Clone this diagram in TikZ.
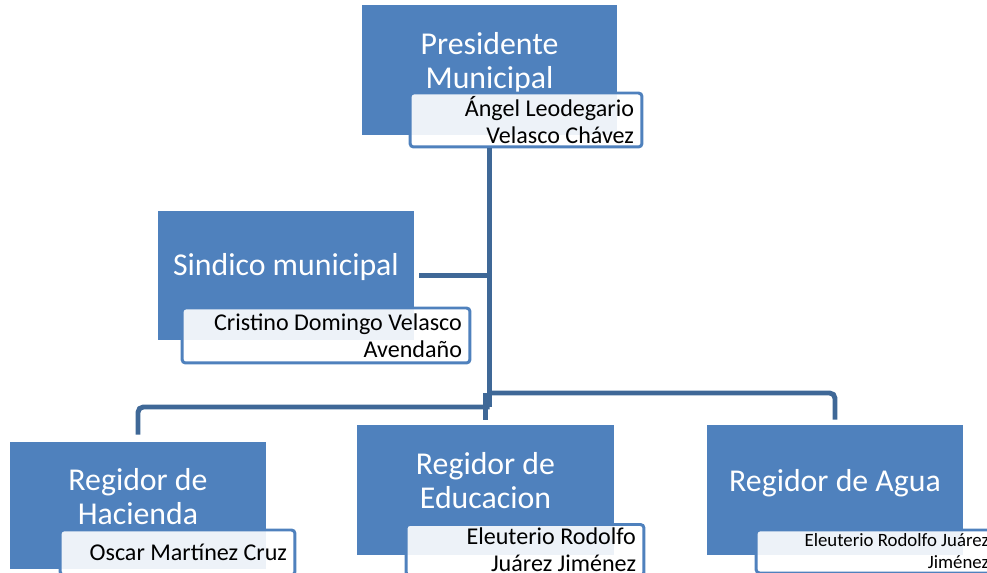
\documentclass[tikz,border=0pt]{standalone}
\usepackage{fontspec}
\setmainfont{Carlito}
\definecolor{unitblue}{RGB}{79,129,189}
\definecolor{linkblue}{RGB}{63,104,151}
\tikzstyle{unit} = [rectangle, fill=unitblue, inner sep=0pt, minimum width=5.12cm, minimum height=2.60cm]
\tikzstyle{title} = [text=white, align=center, inner sep=0pt, font=\fontsize{18.1}{19.4}\selectfont]
\tikzstyle{namebox} = [rectangle, rounded corners=2pt, draw=unitblue, line width=1.7pt, fill=white, fill opacity=0.9, text opacity=1, align=flush right, inner sep=0pt, font=\fontsize{13.7}{15.3}\selectfont]
\tikzstyle{link} = [draw=linkblue, line width=2.8pt]

\begin{document}
\begin{tikzpicture}[x=0.02cm, y=-0.02cm]
	\useasboundingbox (0,0) rectangle (987,573);
	\clip (0,0) rectangle (987,573);
	
	% presidente
	\node[unit, minimum width=5.10cm] (pres) at (489.5,70) {};
	\node[title] (presT) at (489.5,63) {Presidente\\Municipal};
	\node[namebox, minimum width=4.64cm, minimum height=1.08cm, text width=4.32cm] (presN) at (526,120) {Ángel Leodegario\\Velasco Chávez};
	
	% sindico
	\node[unit, minimum height=2.58cm] (sind) at (286,275.5) {};
	\node[title] (sindT) at (286,267) {Sindico municipal};
	\node[namebox, minimum width=5.76cm, minimum height=1.10cm, text width=5.44cm] (sindN) at (326,335.5) {Cristino Domingo Velasco\\Avendaño};
	
	% regidores
	\node[unit, minimum height=2.54cm] (hac) at (138,505.5) {};
	\node[title] (hacT) at (138,496.5) {Regidor de\\Hacienda};
	\node[namebox, minimum width=4.70cm, minimum height=0.90cm, text width=4.38cm] (hacN) at (177.5,552.5) {Oscar Martínez Cruz};
	
	\node[unit, minimum width=5.14cm] (edu) at (485.5,490) {};
	\node[title] (eduT) at (485.5,480.5) {Regidor de\\Educacion};
	\node[namebox, minimum width=4.76cm, minimum height=1.02cm, text width=4.44cm] (eduN) at (525,550) {Eleuterio Rodolfo\\Juárez Jiménez};
	
	\node[unit] (agua) at (835,490) {};
	\node[title] (aguaT) at (835,483) {Regidor de Agua};
	\node[namebox, minimum width=4.82cm, minimum height=0.86cm, text width=4.50cm, font=\fontsize{10.7}{12.5}\selectfont] (aguaN) at (876.5,551.5) {Eleuterio Rodolfo Juárez\\Jiménez};
	
	% lineas
	\draw[link] (pres.south |- presN.south) -- (pres.south |- 0,407);
	\draw[link, shorten <=0.1cm] (sind.east) -- (sind.east -| pres.south);
	\draw[link, rounded corners=3pt, shorten >=0.1cm] (pres.south |- 0,393) -| (agua.north);
	\draw[link, rounded corners=3pt, shorten >=0.14cm] (pres.south |- 0,407) -| (hac.north);
	\draw[link, shorten >=0.1cm] (edu.north |- 0,393) -- (edu.north);
\end{tikzpicture}
\end{document}
